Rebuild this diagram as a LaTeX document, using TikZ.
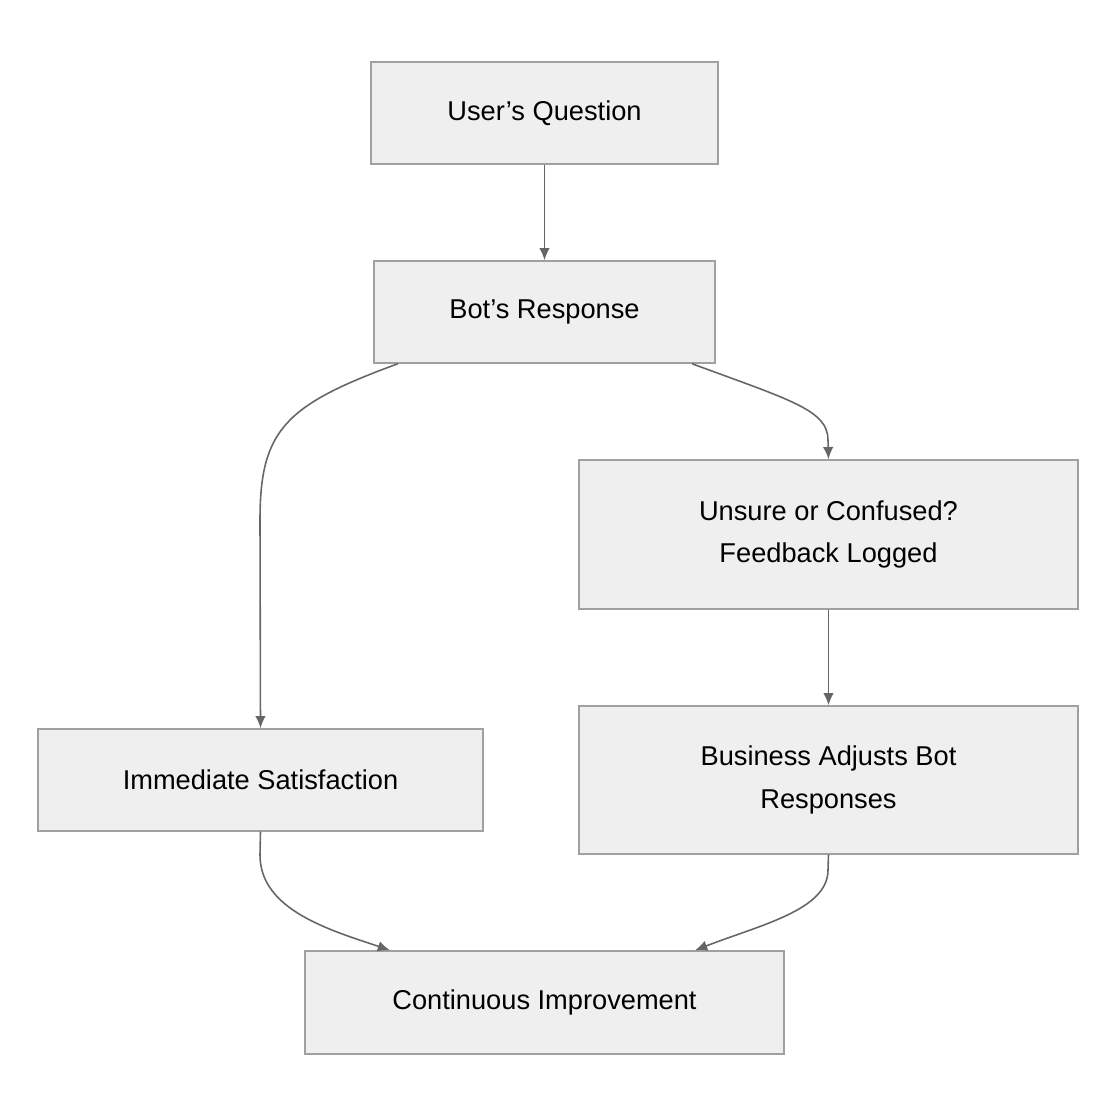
\documentclass[tikz,border=0pt]{standalone}
\usepackage{fontspec}
\setmainfont{Liberation Sans}
\usetikzlibrary{arrows.meta}
\definecolor{boxfill}{HTML}{EFEFEF}
\definecolor{boxline}{HTML}{A0A0A0}
\definecolor{linkline}{HTML}{666666}
\begin{document}
\begin{tikzpicture}[x=0.02cm, y=-0.02cm]

        % Define block styles
        \tikzset{
          stage/.style = {rectangle, draw=boxline, fill=boxfill, line width=0.8pt, align=center,
                         font=\fontsize{15.5}{24}\selectfont, inner sep=0pt},
          link/.style = {draw=linkline, line width=0.9pt, -{Latex[length=7pt, width=6pt]}}
        }

        \useasboundingbox (0,0) rectangle (1116,1116);

        % Components
        \node (question) [stage, minimum width=6.94cm, minimum height=2.04cm] at (544.5,113) {User's Question};
        \node (response) [stage, minimum width=6.82cm, minimum height=2.04cm] at (544.5,312) {Bot's Response};
        \node (unsure) [stage, minimum width=9.98cm, minimum height=2.98cm] at (828.5,534.5) {Unsure or Confused?\\ Feedback Logged};
        \node (adjust) [stage, minimum width=9.98cm, minimum height=2.96cm] at (828.5,780) {Business Adjusts Bot\\ Responses};
        \node (satisfied) [stage, minimum width=8.9cm, minimum height=2.04cm] at (260.5,780) {Immediate Satisfaction};
        \node (improve) [stage, minimum width=9.58cm, minimum height=2.06cm] at (544.5,1002.5) {Continuous Improvement};

        % Arrows
        \draw [link] (question) -- (response);
        \draw [link] ([xshift=-2.93cm]response.south) .. controls (285,405) and (260,430) .. (260,520) -- (satisfied.north);
        \draw [link] ([xshift=2.95cm]response.south) .. controls (790,400) and (828,410) .. (828,440) -- (unsure.north);
        \draw [link] (unsure) -- (adjust);
        \draw [link] (satisfied.south) -- (260,855) .. controls (260,910) and (330,930) .. ([xshift=-3.09cm]improve.north);
        \draw [link] (adjust.south) -- (828,870) .. controls (828,910) and (760,925) .. ([xshift=3.01cm]improve.north);

\end{tikzpicture}
\end{document}
